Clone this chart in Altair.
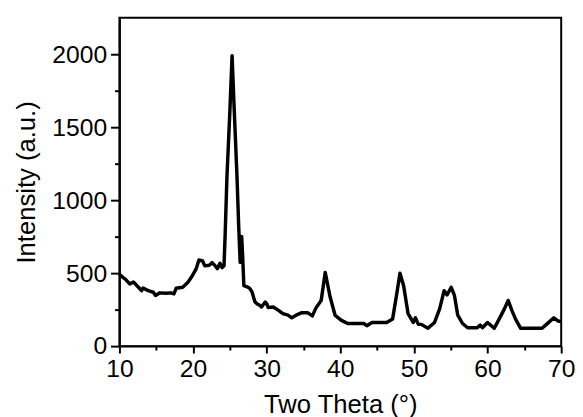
import altair as alt
import pandas as pd

two_theta = [10.0, 10.5, 10.8, 11.4, 11.9, 12.55, 13.0, 13.2, 13.9, 14.6, 14.9, 15.5, 16.3, 17.0,
             17.4, 17.7, 18.6, 19.3, 19.9, 20.4, 20.8, 21.3, 21.6, 22.2, 22.6, 23.1, 23.3, 23.65,
             23.96, 24.2, 24.35, 24.6, 25.0, 25.3, 25.6, 25.97, 26.2, 26.4, 26.6, 26.75, 26.9,
             27.5, 27.75, 28.0, 28.4, 28.66, 29.1, 29.3, 29.8, 30.0, 30.2, 30.9, 31.6, 32.2, 32.9,
             33.4, 34.0, 34.7, 35.6, 36.2, 36.7, 37.4, 37.95, 38.6, 39.3, 40.1, 41.0, 43.2, 43.6,
             44.3, 46.3, 47.1, 47.7, 48.1, 48.6, 49.2, 49.9, 50.2, 50.6, 51.0, 51.9, 52.8, 53.5,
             54.1, 54.5, 55.06, 55.5, 55.95, 56.6, 57.3, 58.6, 59.0, 59.3, 60.0, 60.9, 61.5, 62.3,
             62.8, 63.3, 63.8, 64.5, 67.4, 68.0, 69.0, 69.6, 70.0]
intensity = [493, 470, 459, 426, 439, 405, 380, 398, 380, 369, 347, 365, 362, 365,
             358, 396, 403, 437, 482, 527, 590, 583, 550, 554, 572, 545, 531, 567,
             538, 550, 750, 1157, 1608, 1990, 1608, 1157, 820, 574, 752, 600, 414,
             403, 392, 372, 304, 291, 279, 268, 302, 291, 265, 268, 245, 223, 212,
             194, 212, 228, 228, 207, 262, 313, 505, 340, 210, 178, 155, 155, 140,
             162, 162, 185, 369, 500, 414, 223, 162, 194, 149, 149, 122, 162, 257,
             380, 351, 403, 347, 212, 155, 126, 126, 144, 126, 162, 122, 178, 257,
             313, 245, 185, 122, 122, 149, 194, 171, 171]

x_ticks = [10, 15, 20, 25, 30, 35, 40, 45, 50, 55, 60, 65, 70]
y_ticks = [0, 250, 500, 750, 1000, 1250, 1500, 1750, 2000]

df = pd.DataFrame({"x": two_theta, "y": intensity})

FONT = "Liberation Sans"

chart = alt.Chart(df).mark_line(color="black", strokeWidth=3.5, strokeJoin="round").encode(
    x=alt.X("x:Q", scale=alt.Scale(domain=[10, 70], nice=False, zero=False),
            axis=alt.Axis(title="Two Theta (°)", values=x_ticks, grid=False,
                          labelExpr="datum.value % 10 === 0 ? datum.label : ''",
                          tickSize={"condition": {"test": "datum.value % 10 === 0", "value": 7}, "value": 4},
                          labelPadding=4, titlePadding=10, labelFlush=False, titleFontSize=26)),
    y=alt.Y("y:Q", scale=alt.Scale(domain=[0, 2250], nice=False),
            axis=alt.Axis(title="Intensity (a.u.)", values=y_ticks, grid=False,
                          labelExpr="datum.value % 500 === 0 ? datum.label : ''",
                          tickSize={"condition": {"test": "datum.value % 500 === 0", "value": 9}, "value": 5},
                          labelPadding=4, titlePadding=12, format="d", labelFlush=False,
                          titleFontSize=26)),
).properties(
    width=448, height=333,
    autosize="none",
    padding={"left": 113, "top": 7, "right": 14, "bottom": 69},
).configure_view(
    stroke="black", strokeWidth=2
).configure_axis(
    domainColor="black", domainWidth=2, tickColor="black", tickWidth=2,
    labelFont=FONT, titleFont=FONT, labelFontSize=25,
    labelColor="black", titleColor="black", titleFontWeight="normal",
)

chart.save("out.html", embed_options={"renderer": "svg", "actions": False})
